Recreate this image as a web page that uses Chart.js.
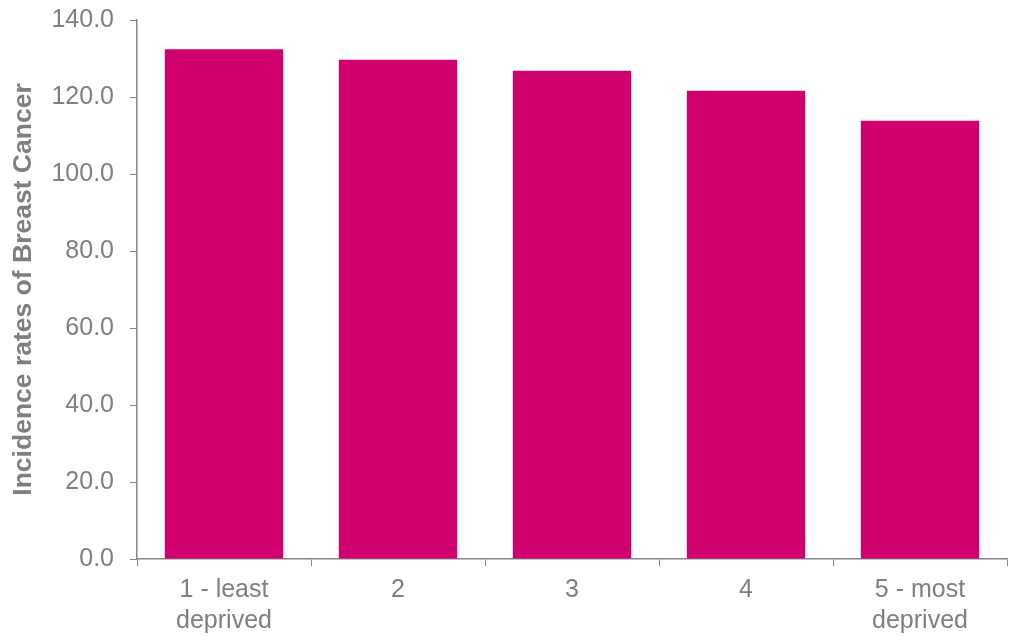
<!DOCTYPE html>
<html>
<head>
<meta charset="utf-8">
<script src="https://cdn.jsdelivr.net/npm/chart.js@4.4.0/dist/chart.umd.min.js"></script>
<style>
  html, body { margin: 0; padding: 0; background: #fff; }
</style>
</head>
<body>
<canvas id="out" width="1011" height="636"></canvas>
<script>
const categories = [["1 - least", "deprived"], "2", "3", "4", ["5 - most", "deprived"]];
const incidence = [132.4, 129.7, 126.8, 121.6, 113.8];
const yTicks = [0, 20, 40, 60, 80, 100, 120, 140];

const grey = "#7f7f7f";
const axisGrey = "#868686";

const ctx = document.getElementById("out").getContext("2d");
new Chart(ctx, {
  type: "bar",
  data: {
    labels: categories,
    datasets: [{
      label: "Incidence",
      data: incidence,
      backgroundColor: "#d0006f",
      categoryPercentage: 0.68,
      barPercentage: 1.0
    }]
  },
  options: {
    responsive: false,
    animation: false,
    devicePixelRatio: 1,
    layout: { padding: { top: 20, right: 4, left: 0, bottom: 0 } },
    plugins: { legend: { display: false }, tooltip: { enabled: false } },
    scales: {
      x: {
        grid: { display: true, drawOnChartArea: false, drawTicks: true, tickLength: 7, color: axisGrey, offset: true },
        border: { color: axisGrey, width: 1.5 },
        ticks: { color: grey, font: { family: "Liberation Sans, Arial", size: 25, lineHeight: 1.25 }, padding: 8, maxRotation: 0 },
        afterFit: s => { s.height = 77; s.paddingLeft = 0; s.paddingRight = 0; }
      },
      y: {
        min: 0, max: 140,
        afterBuildTicks: s => { s.ticks = yTicks.map(v => ({ value: v })); },
        grid: { display: true, drawOnChartArea: false, drawTicks: true, tickLength: 7, color: axisGrey },
        border: { color: axisGrey, width: 1.5 },
        ticks: { color: grey, font: { family: "Liberation Sans, Arial", size: 25 }, padding: 16, callback: v => v.toFixed(1) },
        title: { display: true, text: "Incidence rates of Breast Cancer", color: grey, font: { family: "Liberation Sans, Arial", size: 26.5, weight: "bold" }, padding: { top: 8, bottom: 0 } },
        afterFit: s => { s.width = 137; s.paddingTop = 0; s.paddingBottom = 0; }
      }
    }
  }
});
</script>
</body>
</html>
